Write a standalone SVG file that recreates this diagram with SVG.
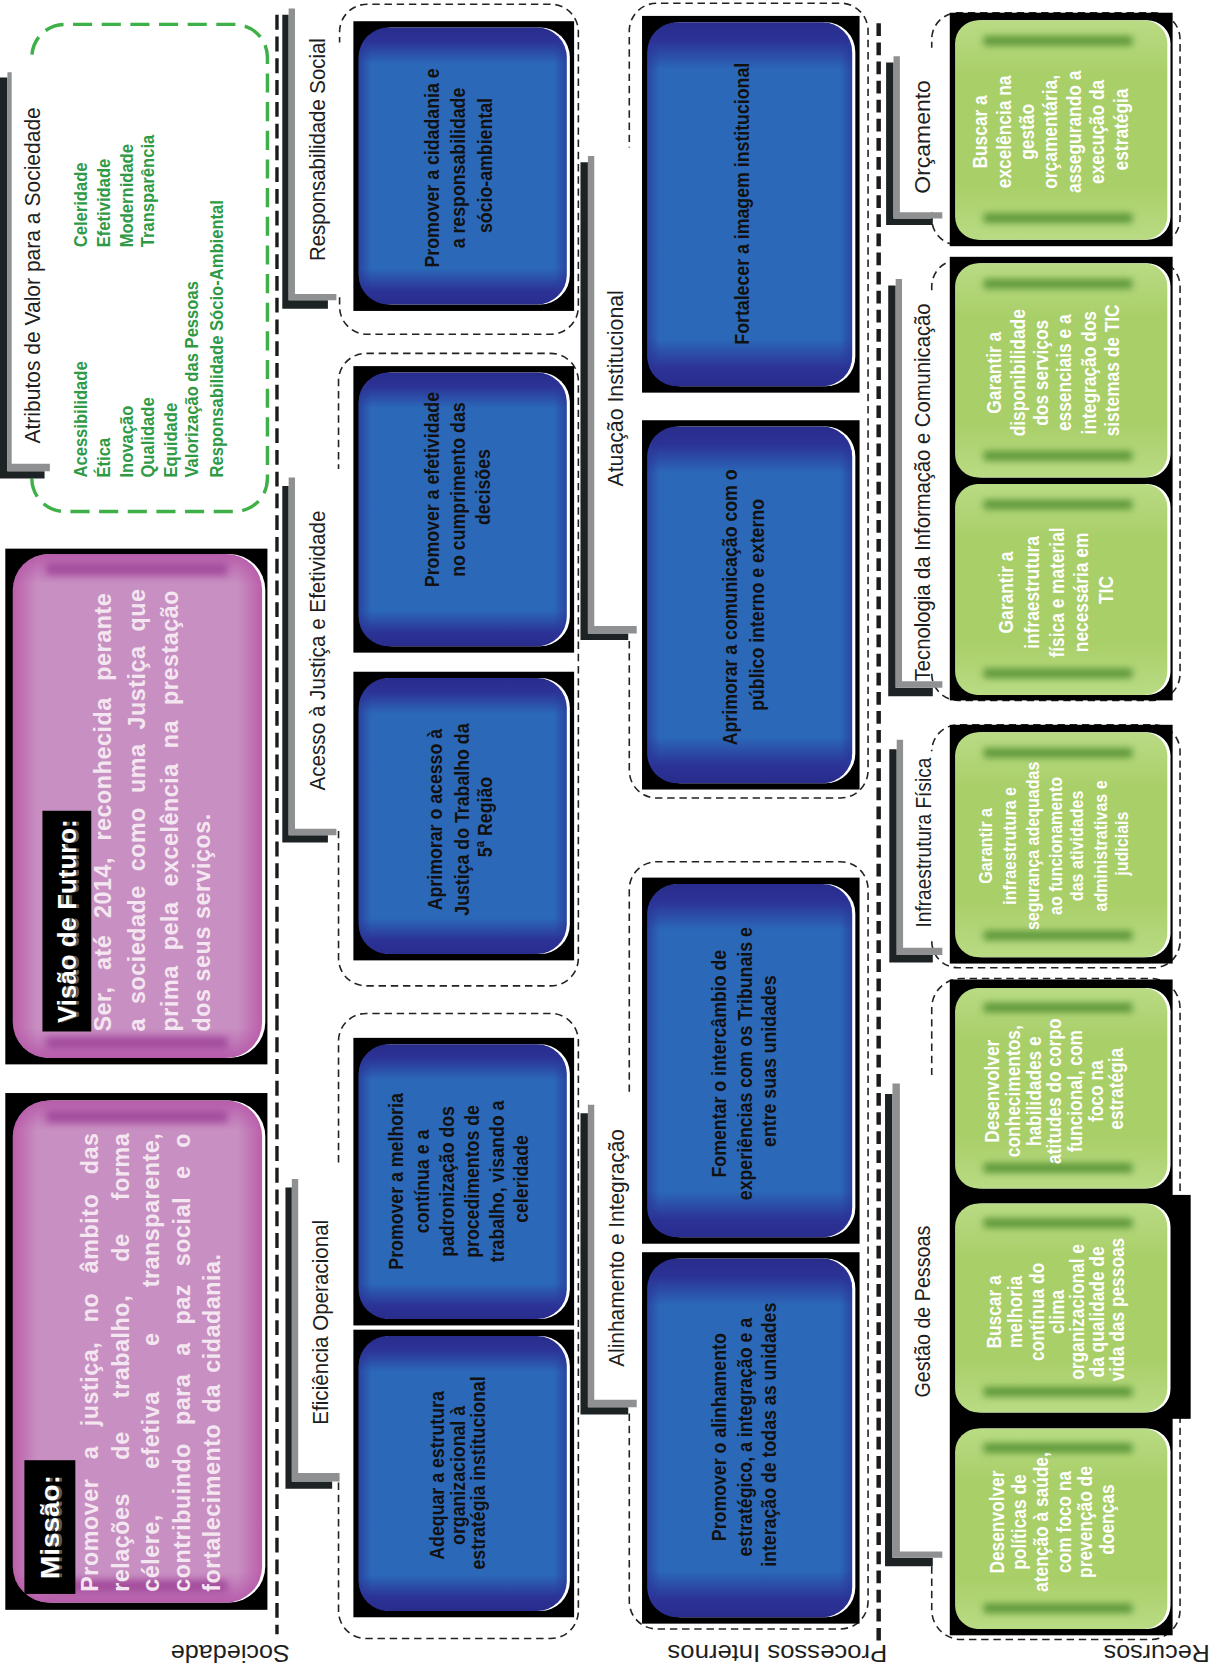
<svg xmlns="http://www.w3.org/2000/svg" width="1211" height="1664" viewBox="0 0 1211 1664">
<style>
.sep1{fill:none;stroke:#1b1b1b;stroke-width:3.2;stroke-dasharray:14 6.5}
.sep2{fill:none;stroke:#1b1b1b;stroke-width:4.2;stroke-dasharray:12 6}
.grp{fill:none;stroke:#222;stroke-width:1.5;stroke-dasharray:7 4.5}
.attrbox{fill:none;stroke:#3db048;stroke-width:3.2;stroke-dasharray:18 9}
.kb{fill:#1d2324}
.kg{fill:#8e9092}
.bg{fill:#000}
.hl{fill:#fff}
.lbl{font-family:"Liberation Sans",Arial,sans-serif;font-size:21px;fill:#1e1e1e;text-anchor:middle}
.bt{font-family:"Liberation Sans",Arial,sans-serif;font-weight:bold;font-size:19px;fill:#111;text-anchor:middle}
.gt{font-family:"Liberation Sans",Arial,sans-serif;font-weight:bold;font-size:19px;fill:#fff;text-anchor:middle}
.at{font-family:"Liberation Sans",Arial,sans-serif;font-weight:bold;font-size:17px;fill:#2e9a46}
.pt{font-family:"Liberation Sans",Arial,sans-serif;font-weight:bold;font-size:22px;fill:#f4e6f0;letter-spacing:.5px}
.tag{font-family:"Liberation Sans",Arial,sans-serif;font-weight:bold;font-size:24px;fill:#fff;text-anchor:middle}
.tags{font-family:"Liberation Sans",Arial,sans-serif;font-weight:bold;font-size:24px;fill:#5a5a5a;text-anchor:middle}
.flip{font-family:"Liberation Sans",Arial,sans-serif;font-size:23px;fill:#1e1e1e}
.blue{fill:url(#bv)}
.blueh{fill:url(#bh)}
.green{fill:url(#gv)}
.bar{fill:#5b9637;filter:url(#bl)}
.pink{fill:url(#ph)}
.pinkv{fill:url(#pv)}
.pbar{fill:#9a3c94;filter:url(#bl);opacity:.75}
</style>
<defs>
<linearGradient id="bv" x1="0" y1="0" x2="0" y2="1">
<stop offset="0" stop-color="#282c8c"/><stop offset=".05" stop-color="#2c3396"/><stop offset=".13" stop-color="#2b68b8"/><stop offset=".87" stop-color="#2b68b8"/><stop offset=".95" stop-color="#2c3396"/><stop offset="1" stop-color="#282c8c"/>
</linearGradient>
<linearGradient id="bh" x1="0" y1="0" x2="1" y2="0">
<stop offset="0" stop-color="#2a3296" stop-opacity=".65"/><stop offset=".06" stop-color="#2a3296" stop-opacity="0"/><stop offset=".94" stop-color="#2a3296" stop-opacity="0"/><stop offset="1" stop-color="#2a3296" stop-opacity=".65"/>
</linearGradient>
<linearGradient id="gv" x1="0" y1="0" x2="0" y2="1">
<stop offset="0" stop-color="#b9db84"/><stop offset=".25" stop-color="#a9cf69"/><stop offset=".75" stop-color="#a9cf69"/><stop offset="1" stop-color="#b9db84"/>
</linearGradient>
<linearGradient id="ph" x1="0" y1="0" x2="1" y2="0">
<stop offset="0" stop-color="#bb5eaa"/><stop offset=".1" stop-color="#c890c2"/><stop offset=".9" stop-color="#c890c2"/><stop offset="1" stop-color="#bb5eaa"/>
</linearGradient>
<linearGradient id="pv" x1="0" y1="0" x2="0" y2="1">
<stop offset="0" stop-color="#b24fa4" stop-opacity=".8"/><stop offset=".06" stop-color="#b24fa4" stop-opacity="0"/><stop offset=".94" stop-color="#b24fa4" stop-opacity="0"/><stop offset="1" stop-color="#b24fa4" stop-opacity=".8"/>
</linearGradient>
<filter id="bl" x="-30%" y="-150%" width="160%" height="400%"><feGaussianBlur stdDeviation="3.5"/></filter>
</defs>
<rect width="1211" height="1664" fill="#fff"/>
<g transform="scale(1.0612)">

<g id="connectors">
<path class="sep1" d="M261 14 V1540"/>
<path class="sep2" d="M828 22 V1548"/>
<path class="grp" d="M320 280 V289 A26 26 0 0 0 346 315 H519 A26 26 0 0 0 545 289 V30 A26 26 0 0 0 519 4 H346 A26 26 0 0 0 320 30 V40"/>
<path class="grp" d="M319 783 V903 A26 26 0 0 0 345 929 H519 A26 26 0 0 0 545 903 V359 A26 26 0 0 0 519 333 H345 A26 26 0 0 0 319 359 V442"/>
<path class="grp" d="M319 1397 V1518 A26 26 0 0 0 345 1544 H519 A26 26 0 0 0 545 1518 V981 A26 26 0 0 0 519 955 H345 A26 26 0 0 0 319 981 V1100"/>
<path class="grp" d="M593 604 V726 A26 26 0 0 0 619 752 H792 A26 26 0 0 0 818 726 V29 A26 26 0 0 0 792 3 H619 A26 26 0 0 0 593 29 V139"/>
<path class="grp" d="M593 1332 V1509 A26 26 0 0 0 619 1535 H792 A26 26 0 0 0 818 1509 V838 A26 26 0 0 0 792 812 H619 A26 26 0 0 0 593 838 V1030"/>
<path class="grp" d="M878 200 V206 A25 25 0 0 0 903 231 H1087 A25 25 0 0 0 1112 206 V37 A25 25 0 0 0 1087 12 H903 A25 25 0 0 0 878 37 V45"/>
<path class="grp" d="M878 635 A25 25 0 0 0 903 660 H1087 A25 25 0 0 0 1112 635 V270 A25 25 0 0 0 1087 245 H903 A25 25 0 0 0 878 270 V274"/>
<path class="grp" d="M878 887 A25 25 0 0 0 903 912 H1087 A25 25 0 0 0 1112 887 V708 A25 25 0 0 0 1087 683 H903 A25 25 0 0 0 878 708"/>
<path class="grp" d="M878 1476 V1517 A28 28 0 0 0 906 1545 H1084 A28 28 0 0 0 1112 1517 V950 A28 28 0 0 0 1084 922 H906 A28 28 0 0 0 878 950 V1013"/>
</g>

<g id="atributos">
<path class="attrbox" d="M30 451 A31 31 0 0 0 61 482 H221 A31 31 0 0 0 252 451 V54 A31 31 0 0 0 221 23 H61 A31 31 0 0 0 30 54"/>
<path class="kb" d="M0 73 H7 V444 H42 V451 H0 Z"/>
<path class="kg" d="M7 68 H11 V437 H47 V444 H7 Z"/>
<text class="lbl" transform="translate(0 259.5) rotate(-90)" x="0" y="38" textLength="317" lengthAdjust="spacingAndGlyphs">Atributos de Valor para a Sociedade</text>
<text class="at" transform="translate(0 450) rotate(-90) scale(.92 1)">
<tspan x="0" y="82">Acessibilidade</tspan>
<tspan x="0" y="104">Ética</tspan>
<tspan x="0" y="125">Inovação</tspan>
<tspan x="0" y="145">Qualidade</tspan>
<tspan x="0" y="167">Equidade</tspan>
<tspan x="0" y="187">Valorização das Pessoas</tspan>
<tspan x="0" y="210">Responsabilidade Sócio-Ambiental</tspan>
</text>
<text class="at" transform="translate(0 233) rotate(-90) scale(.92 1)">
<tspan x="0" y="82">Celeridade</tspan>
<tspan x="0" y="104">Efetividade</tspan>
<tspan x="0" y="125">Modernidade</tspan>
<tspan x="0" y="145">Transparência</tspan>
</text>
</g>

<g id="visao">
<rect class="bg" x="5" y="517" width="247" height="486"/>
<rect class="hl" x="15" y="522" width="235" height="475" rx="34"/>
<rect class="pink" x="12" y="522" width="235" height="475" rx="34"/>
<rect class="pinkv" x="12" y="522" width="235" height="475" rx="34"/>
<rect class="pbar" x="44" y="531" width="170" height="11"/>
<rect class="pbar" x="44" y="977" width="170" height="11"/>
<rect class="bg" x="40" y="764" width="46" height="208"/>
<text class="tags" transform="translate(0 868) rotate(-90)" x="0" y="74.5" textLength="192" lengthAdjust="spacingAndGlyphs">Visão de Futuro:</text>
<text class="tag" transform="translate(0 868) rotate(-90)" x="0" y="72" textLength="192" lengthAdjust="spacingAndGlyphs">Visão de Futuro:</text>
<text class="pt" transform="translate(0 972) rotate(-90)">
<tspan x="0" y="105" style="word-spacing:9px">Ser, até 2014, reconhecida perante</tspan>
<tspan x="0" y="137" style="word-spacing:6.5px">a sociedade como uma Justiça que</tspan>
<tspan x="0" y="168" style="word-spacing:7.5px">prima pela excelência na prestação</tspan>
<tspan x="0" y="198">dos seus serviços.</tspan>
</text>
</g>

<g id="missao">
<rect class="bg" x="5" y="1030" width="247" height="487"/>
<rect class="hl" x="15" y="1037" width="235" height="473" rx="34"/>
<rect class="pink" x="12" y="1037" width="235" height="473" rx="34"/>
<rect class="pinkv" x="12" y="1037" width="235" height="473" rx="34"/>
<rect class="pbar" x="44" y="1047" width="170" height="11"/>
<rect class="pbar" x="44" y="1489" width="170" height="11"/>
<rect class="bg" x="23" y="1376" width="48" height="126"/>
<text class="tags" transform="translate(0 1439) rotate(-90)" x="0" y="58.5" textLength="98" lengthAdjust="spacingAndGlyphs">Missão:</text>
<text class="tag" transform="translate(0 1439) rotate(-90)" x="0" y="56" textLength="98" lengthAdjust="spacingAndGlyphs">Missão:</text>
<text class="pt" transform="translate(0 1500) rotate(-90)">
<tspan x="0" y="92" style="word-spacing:11.7px">Promover a justiça, no âmbito das</tspan>
<tspan x="0" y="122" style="word-spacing:24.7px">relações de trabalho, de forma</tspan>
<tspan x="0" y="150" style="word-spacing:36px">célere, efetiva e transparente,</tspan>
<tspan x="0" y="179" style="word-spacing:10.2px">contribuindo para a paz social e o</tspan>
<tspan x="0" y="207" style="word-spacing:4px">fortalecimento da cidadania.</tspan>
</text>
</g>

<g id="tema-responsabilidade-social">
<path class="kb" d="M266 14 H272 V283 H309 V291 H266 Z"/>
<path class="kg" d="M272 8 H278 V277 H317 V283 H272 Z"/>
<text class="lbl" transform="translate(0 141) rotate(-90)" x="0" y="306" textLength="210" lengthAdjust="spacingAndGlyphs">Responsabilidade Social</text>
</g>
<g id="obj-cidadania">
<rect class="bg" x="333" y="20" width="208" height="273"/>
<rect class="hl" x="341" y="26" width="196" height="261" rx="28"/>
<rect class="blue" x="338" y="26" width="196" height="261" rx="28"/>
<rect class="blueh" x="338" y="26" width="196" height="261" rx="28"/>
<text class="bt" transform="translate(0 156) rotate(-90) scale(.88 1)">
<tspan x="0" y="413.5">Promover a cidadania e</tspan>
<tspan x="0" y="438.5">a responsabilidade</tspan>
<tspan x="0" y="463.5">sócio-ambiental</tspan>
</text>
</g>

<g id="tema-acesso">
<path class="kb" d="M266 458 H272 V787 H309 V794 H266 Z"/>
<path class="kg" d="M272 450 H278 V781 H317 V787 H272 Z"/>
<text class="lbl" transform="translate(0 613) rotate(-90)" x="0" y="306" textLength="264" lengthAdjust="spacingAndGlyphs">Acesso à Justiça e Efetividade</text>
</g>
<g id="obj-efetividade">
<rect class="bg" x="333" y="345" width="208" height="270"/>
<rect class="hl" x="341" y="351" width="196" height="258" rx="28"/>
<rect class="blue" x="338" y="351" width="196" height="258" rx="28"/>
<rect class="blueh" x="338" y="351" width="196" height="258" rx="28"/>
<text class="bt" transform="translate(0 459) rotate(-90) scale(.88 1)">
<tspan x="0" y="413.5">Promover a efetividade</tspan>
<tspan x="0" y="438.5">no cumprimento das</tspan>
<tspan x="0" y="461.5">decisões</tspan>
</text>
</g>
<g id="obj-acesso">
<rect class="bg" x="333" y="633" width="208" height="272"/>
<rect class="hl" x="341" y="639" width="196" height="260" rx="28"/>
<rect class="blue" x="338" y="639" width="196" height="260" rx="28"/>
<rect class="blueh" x="338" y="639" width="196" height="260" rx="28"/>
<text class="bt" transform="translate(0 770) rotate(-90) scale(.88 1)">
<tspan x="0" y="416.5">Aprimorar o acesso à</tspan>
<tspan x="0" y="441.5">Justiça do Trabalho da</tspan>
<tspan x="0" y="463.5">5ª Região</tspan>
</text>
</g>

<g id="tema-eficiencia">
<path class="kb" d="M269 1119 H275 V1396 H313 V1403 H269 Z"/>
<path class="kg" d="M275 1111 H281 V1388 H320 V1396 H275 Z"/>
<text class="lbl" transform="translate(0 1246) rotate(-90)" x="0" y="309" textLength="193" lengthAdjust="spacingAndGlyphs">Eficiência Operacional</text>
</g>
<g id="obj-melhoria">
<rect class="bg" x="333" y="978" width="208" height="271"/>
<rect class="hl" x="341" y="984" width="196" height="259" rx="28"/>
<rect class="blue" x="338" y="984" width="196" height="259" rx="28"/>
<rect class="blueh" x="338" y="984" width="196" height="259" rx="28"/>
<text class="bt" transform="translate(0 1111) rotate(-90) scale(.88 1)">
<tspan x="0" y="379.5">Promover a melhoria</tspan>
<tspan x="0" y="404.5">contínua e a</tspan>
<tspan x="0" y="427.5">padronização dos</tspan>
<tspan x="0" y="451.5">procedimentos de</tspan>
<tspan x="0" y="474.5">trabalho, visando a</tspan>
<tspan x="0" y="497.5">celeridade</tspan>
</text>
</g>
<g id="obj-estrutura">
<rect class="bg" x="333" y="1253" width="208" height="271"/>
<rect class="hl" x="341" y="1259" width="196" height="259" rx="28"/>
<rect class="blue" x="338" y="1259" width="196" height="259" rx="28"/>
<rect class="blueh" x="338" y="1259" width="196" height="259" rx="28"/>
<text class="bt" transform="translate(0 1388) rotate(-90) scale(.88 1)">
<tspan x="0" y="418.5">Adequar a estrutura</tspan>
<tspan x="0" y="438.5">organizacional à</tspan>
<tspan x="0" y="457.5">estratégia institucional</tspan>
</text>
</g>

<g id="tema-atuacao">
<path class="kb" d="M547 153 H554 V597 H592 V603 H547 Z"/>
<path class="kg" d="M554 147 H560 V590 H600 V597 H554 Z"/>
<text class="lbl" transform="translate(0 366) rotate(-90)" x="0" y="587" textLength="185" lengthAdjust="spacingAndGlyphs">Atuação Institucional</text>
</g>
<g id="obj-imagem">
<rect class="bg" x="605" y="15" width="205" height="355"/>
<rect class="hl" x="613" y="21" width="193" height="343" rx="28"/>
<rect class="blue" x="610" y="21" width="193" height="343" rx="28"/>
<rect class="blueh" x="610" y="21" width="193" height="343" rx="28"/>
<text class="bt" transform="translate(0 192) rotate(-90) scale(.88 1)">
<tspan x="0" y="705.5">Fortalecer a imagem institucional</tspan>
</text>
</g>
<g id="obj-comunicacao">
<rect class="bg" x="605" y="396" width="205" height="348"/>
<rect class="hl" x="613" y="402" width="193" height="336" rx="28"/>
<rect class="blue" x="610" y="402" width="193" height="336" rx="28"/>
<rect class="blueh" x="610" y="402" width="193" height="336" rx="28"/>
<text class="bt" transform="translate(0 570) rotate(-90) scale(.88 1)">
<tspan x="0" y="694.5">Aprimorar a comunicação com o</tspan>
<tspan x="0" y="719.5">público interno e externo</tspan>
</text>
</g>

<g id="tema-alinhamento">
<path class="kb" d="M547 1049 H554 V1326 H592 V1333 H547 Z"/>
<path class="kg" d="M554 1041 H560 V1319 H600 V1326 H554 Z"/>
<text class="lbl" transform="translate(0 1176) rotate(-90)" x="0" y="588" textLength="224" lengthAdjust="spacingAndGlyphs">Alinhamento e Integração</text>
</g>
<g id="obj-intercambio">
<rect class="bg" x="605" y="827" width="205" height="345"/>
<rect class="hl" x="613" y="833" width="193" height="333" rx="28"/>
<rect class="blue" x="610" y="833" width="193" height="333" rx="28"/>
<rect class="blueh" x="610" y="833" width="193" height="333" rx="28"/>
<text class="bt" transform="translate(0 1000) rotate(-90) scale(.88 1)">
<tspan x="0" y="684.5">Fomentar o intercâmbio de</tspan>
<tspan x="0" y="708.5">experiências com os Tribunais e</tspan>
<tspan x="0" y="731.5">entre suas unidades</tspan>
</text>
</g>
<g id="obj-alinhamento">
<rect class="bg" x="605" y="1180" width="205" height="350"/>
<rect class="hl" x="613" y="1186" width="193" height="338" rx="28"/>
<rect class="blue" x="610" y="1186" width="193" height="338" rx="28"/>
<rect class="blueh" x="610" y="1186" width="193" height="338" rx="28"/>
<text class="bt" transform="translate(0 1352) rotate(-90) scale(.88 1)">
<tspan x="0" y="684.5">Promover o alinhamento</tspan>
<tspan x="0" y="708.5">estratégico, a integração e a</tspan>
<tspan x="0" y="731.5">interação de todas as unidades</tspan>
</text>
</g>

<g id="tema-orcamento">
<path class="kb" d="M835 59 H842 V206 H879 V212 H835 Z"/>
<path class="kg" d="M842 53 H848 V200 H888 V206 H842 Z"/>
<text class="lbl" transform="translate(0 129) rotate(-90)" x="0" y="876" textLength="107" lengthAdjust="spacingAndGlyphs">Orçamento</text>
</g>
<g id="obj-orcamento">
<rect class="bg" x="895" y="12" width="210" height="220"/>
<rect class="hl" x="903" y="19" width="200" height="207" rx="22"/>
<rect class="green" x="900" y="19" width="200" height="207" rx="22"/>
<rect class="bar" x="927" y="34" width="140" height="9"/>
<rect class="bar" x="927" y="201" width="140" height="9"/>
<text class="gt" transform="translate(0 122) rotate(-90) scale(.86 1)">
<tspan x="0" y="930.5">Buscar a</tspan>
<tspan x="0" y="952.5">excelência na</tspan>
<tspan x="0" y="974.5">gestão</tspan>
<tspan x="0" y="996.5">orçamentária,</tspan>
<tspan x="0" y="1018.5">assegurando a</tspan>
<tspan x="0" y="1040.5">execução da</tspan>
<tspan x="0" y="1062.5">estratégia</tspan>
</text>
</g>

<g id="tema-tic">
<path class="kb" d="M837 269 H844 V648 H879 V656 H837 Z"/>
<path class="kg" d="M844 263 H850 V642 H888 V648 H844 Z"/>
<text class="lbl" transform="translate(0 464) rotate(-90)" x="0" y="876" textLength="356" lengthAdjust="spacingAndGlyphs">Tecnologia da Informação e Comunicação</text>
</g>
<g id="obj-tic">
<rect class="bg" x="895" y="242" width="210" height="418"/>
<rect class="hl" x="903" y="248" width="200" height="202" rx="22"/>
<rect class="green" x="900" y="248" width="200" height="202" rx="22"/>
<rect class="bar" x="927" y="263" width="140" height="9"/>
<rect class="bar" x="927" y="425" width="140" height="9"/>
<text class="gt" transform="translate(0 349) rotate(-90) scale(.86 1)">
<tspan x="0" y="943.5">Garantir a</tspan>
<tspan x="0" y="965.5">disponibilidade</tspan>
<tspan x="0" y="987.5">dos serviços</tspan>
<tspan x="0" y="1009.5">essenciais e a</tspan>
<tspan x="0" y="1032.5">integração dos</tspan>
<tspan x="0" y="1054.5">sistemas de TIC</tspan>
</text>
</g>
<g id="obj-infra-tic">
<rect class="hl" x="903" y="456" width="200" height="199" rx="22"/>
<rect class="green" x="900" y="456" width="200" height="199" rx="22"/>
<rect class="bar" x="927" y="471" width="140" height="9"/>
<rect class="bar" x="927" y="630" width="140" height="9"/>
<text class="gt" transform="translate(0 556) rotate(-90) scale(.86 1)">
<tspan x="0" y="954.5">Garantir a</tspan>
<tspan x="0" y="979.5">infraestrutura</tspan>
<tspan x="0" y="1002.5">física e material</tspan>
<tspan x="0" y="1025.5">necessária em</tspan>
<tspan x="0" y="1048.5">TIC</tspan>
</text>
</g>

<g id="tema-infra">
<path class="kb" d="M838 706 H845 V900 H879 V907 H838 Z"/>
<path class="kg" d="M845 697 H851 V893 H888 V900 H845 Z"/>
<text class="lbl" transform="translate(0 794) rotate(-90)" x="0" y="877" textLength="160" lengthAdjust="spacingAndGlyphs">Infraestrutura Física</text>
</g>
<g id="obj-infra">
<rect class="bg" x="895" y="683" width="210" height="225"/>
<rect class="hl" x="903" y="690" width="200" height="212" rx="22"/>
<rect class="green" x="900" y="690" width="200" height="212" rx="22"/>
<rect class="bar" x="927" y="705" width="140" height="9"/>
<rect class="bar" x="927" y="877" width="140" height="9"/>
<text class="gt" transform="translate(0 795) rotate(-90) scale(.84 1)" style="font-size:18px">
<tspan x="0" y="935">Garantir a</tspan>
<tspan x="0" y="957">infraestrutura e</tspan>
<tspan x="0" y="979">segurança adequadas</tspan>
<tspan x="0" y="1001">ao funcionamento</tspan>
<tspan x="0" y="1021">das atividades</tspan>
<tspan x="0" y="1043">administrativas e</tspan>
<tspan x="0" y="1063">judiciais</tspan>
</text>
</g>

<g id="tema-pessoas">
<path class="kb" d="M834 1031 H841 V1468 H879 V1476 H834 Z"/>
<path class="kg" d="M841 1021 H848 V1462 H888 V1468 H841 Z"/>
<text class="lbl" transform="translate(0 1236) rotate(-90)" x="0" y="876" textLength="162" lengthAdjust="spacingAndGlyphs">Gestão de Pessoas</text>
</g>
<g id="obj-conhecimentos">
<rect class="bg" x="895" y="923" width="210" height="618"/>
<rect class="bg" x="1100" y="1126" width="22" height="211"/>
<rect class="hl" x="903" y="931" width="200" height="189" rx="22"/>
<rect class="green" x="900" y="931" width="200" height="189" rx="22"/>
<rect class="bar" x="927" y="945" width="140" height="9"/>
<rect class="bar" x="927" y="1096" width="140" height="9"/>
<text class="gt" transform="translate(0 1026) rotate(-90) scale(.86 1)">
<tspan x="0" y="941.5">Desenvolver</tspan>
<tspan x="0" y="961">conhecimentos,</tspan>
<tspan x="0" y="980.5">habilidades e</tspan>
<tspan x="0" y="1000">atitudes do corpo</tspan>
<tspan x="0" y="1019.5">funcional, com</tspan>
<tspan x="0" y="1039">foco na</tspan>
<tspan x="0" y="1058.5">estratégia</tspan>
</text>
</g>
<g id="obj-clima">
<rect class="hl" x="903" y="1134" width="200" height="197" rx="22"/>
<rect class="green" x="900" y="1134" width="200" height="197" rx="22"/>
<rect class="bar" x="927" y="1148" width="140" height="9"/>
<rect class="bar" x="927" y="1307" width="140" height="9"/>
<text class="gt" transform="translate(0 1234) rotate(-90) scale(.86 1)">
<tspan x="0" y="943.5">Buscar a</tspan>
<tspan x="0" y="963.5">melhoria</tspan>
<tspan x="0" y="983.5">contínua do</tspan>
<tspan x="0" y="1002.5">clima</tspan>
<tspan x="0" y="1021.5">organizacional e</tspan>
<tspan x="0" y="1040.5">da qualidade de</tspan>
<tspan x="0" y="1059.5">vida das pessoas</tspan>
</text>
</g>
<g id="obj-saude">
<rect class="hl" x="903" y="1346" width="200" height="189" rx="22"/>
<rect class="green" x="900" y="1346" width="200" height="189" rx="22"/>
<rect class="bar" x="927" y="1360" width="140" height="9"/>
<rect class="bar" x="927" y="1511" width="140" height="9"/>
<text class="gt" transform="translate(0 1432) rotate(-90) scale(.86 1)">
<tspan x="0" y="946.5">Desenvolver</tspan>
<tspan x="0" y="966.5">políticas de</tspan>
<tspan x="0" y="987.5">atenção à saúde,</tspan>
<tspan x="0" y="1009.5">com foco na</tspan>
<tspan x="0" y="1029.5">prevenção de</tspan>
<tspan x="0" y="1049.5">doenças</tspan>
</text>
</g>

<g id="perspectivas">
<text class="flip" transform="translate(273 1550) rotate(180)" textLength="112" lengthAdjust="spacingAndGlyphs">Sociedade</text>
<text class="flip" transform="translate(836 1550) rotate(180)" textLength="207" lengthAdjust="spacingAndGlyphs">Processos Internos</text>
<text class="flip" transform="translate(1140 1550) rotate(180)" textLength="100" lengthAdjust="spacingAndGlyphs">Recursos</text>
</g>
</g>
</svg>
